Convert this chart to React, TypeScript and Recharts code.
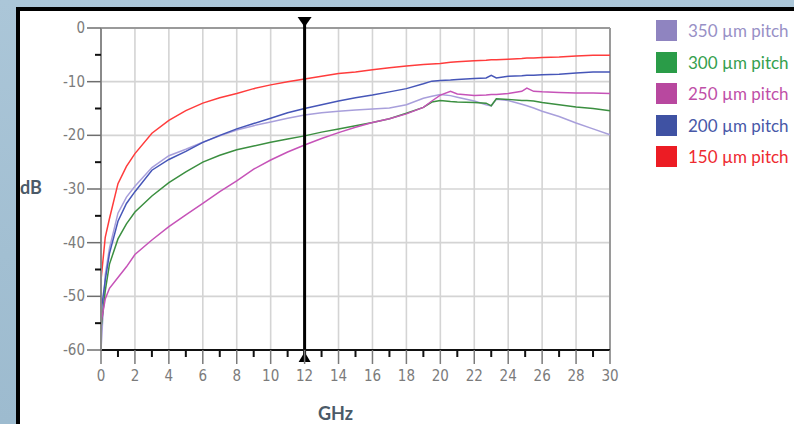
import React from 'react';
import { LineChart, Line, XAxis, YAxis, ReferenceLine } from 'recharts';

// frequency points (GHz)
const freqGHz = [0, 0.25, 0.5, 1, 1.5, 2, 3, 4, 5, 6, 7, 8, 9, 10, 11, 12, 13, 14, 15, 16, 17, 18, 19, 19.5, 20, 20.6, 21, 22, 22.7, 23, 23.3, 24, 24.8, 25.1, 25.5, 26, 27, 28, 29, 30];

// dB values per pitch
const pitch350 = [-60, -46, -41, -34.5, -31.5, -29.5, -26, -23.8, -22.6, -21.3, -20.1, -19, -18.2, -17.5, -16.8, -16.2, -15.8, -15.5, -15.3, -15.1, -14.9, -14.3, -13.1, -12.7, -12.4, -12.6, -12.9, -13.6, -14.3, -14.5, -13.3, -13.5, -14.2, -14.5, -14.9, -15.5, -16.5, -17.7, -18.8, -19.9];
const pitch300 = [-56, -49, -44, -39.3, -36.5, -34.3, -31.3, -28.8, -26.8, -25, -23.7, -22.7, -22, -21.3, -20.7, -20.1, -19.4, -18.8, -18.2, -17.6, -16.9, -15.9, -14.8, -13.8, -13.5, -13.7, -13.8, -13.9, -14, -14.5, -13.2, -13.3, -13.5, -13.5, -13.6, -13.9, -14.3, -14.7, -15, -15.4];
const pitch250 = [-55, -50.5, -48.5, -46.5, -44.5, -42.2, -39.5, -37, -34.8, -32.7, -30.5, -28.5, -26.3, -24.6, -23.1, -21.8, -20.6, -19.5, -18.5, -17.6, -16.9, -16, -14.8, -13.6, -12.5, -11.8, -12.3, -12.6, -12.5, -12.4, -12.4, -12.2, -11.8, -11.2, -11.8, -11.9, -12, -12.1, -12.1, -12.2];
const pitch200 = [-53, -47, -42, -36, -32.7, -30.5, -26.5, -24.5, -23, -21.3, -20, -18.8, -17.8, -16.8, -15.8, -15, -14.3, -13.6, -13, -12.5, -11.9, -11.3, -10.4, -9.9, -9.8, -9.7, -9.6, -9.4, -9.3, -8.8, -9.3, -9, -8.9, -8.8, -8.8, -8.7, -8.6, -8.4, -8.2, -8.2];
const pitch150 = [-47, -39, -35.5, -29, -25.8, -23.4, -19.6, -17.2, -15.4, -14, -13, -12.2, -11.3, -10.6, -10, -9.5, -9, -8.5, -8.2, -7.8, -7.4, -7.1, -6.8, -6.7, -6.6, -6.4, -6.3, -6.1, -6, -5.9, -5.9, -5.8, -5.7, -5.6, -5.6, -5.5, -5.4, -5.2, -5.1, -5.1];

const xTicks = [0, 1, 2, 3, 4, 5, 6, 7, 8, 9, 10, 11, 12, 13, 14, 15, 16, 17, 18, 19, 20, 21, 22, 23, 24, 25, 26, 27, 28, 29, 30];
const xGrid = [2, 4, 6, 8, 10, 12, 14, 16, 18, 20, 22, 24, 26, 28];
const yTicks = [0, -5, -10, -15, -20, -25, -30, -35, -40, -45, -50, -55, -60];
const yGrid = [-10, -20, -30, -40, -50];
const markerGHz = 12;

const series = [
  { key: 'p350', name: '350 µm pitch', values: pitch350, line: '#a89fdb', swatch: '#8f84c0', text: '#9890c6' },
  { key: 'p300', name: '300 µm pitch', values: pitch300, line: '#3b8f40', swatch: '#2a9c48', text: '#35a04e' },
  { key: 'p250', name: '250 µm pitch', values: pitch250, line: '#c653b8', swatch: '#b8489f', text: '#bf4fa8' },
  { key: 'p200', name: '200 µm pitch', values: pitch200, line: '#4656b8', swatch: '#3f52a3', text: '#4858a8' },
  { key: 'p150', name: '150 µm pitch', values: pitch150, line: '#ff3c3c', swatch: '#ec1c24', text: '#ee2a30' },
];

const chartData = freqGHz.map((f, i) => {
  const row: Record<string, number> = { f };
  series.forEach(s => { row[s.key] = s.values[i]; });
  return row;
});

const tickFont = "'Liberation Sans Narrow', 'DejaVu Sans Condensed', 'Liberation Sans', sans-serif";

const XTick = (props: any) => {
  const { x, y, payload } = props;
  const major = payload.value % 2 === 0;
  return (
    <g>
      <line x1={x} x2={x} y1={y} y2={y + (major ? 14 : 7)} stroke={major ? '#7a7a7a' : '#111'} strokeWidth={major ? 1.5 : 2} />
      {major && (
        <text x={x} y={y + 31} textAnchor="middle" fill="#7b7b7b" fontSize={15} fontFamily={tickFont}>
          {payload.value}
        </text>
      )}
    </g>
  );
};

const YTick = (props: any) => {
  const { x, y, payload } = props;
  const major = payload.value % 10 === 0;
  return (
    <g>
      <line x1={x - (major ? 14 : 6)} x2={x} y1={y} y2={y} stroke={major ? '#6e6e6e' : '#111'} strokeWidth={major ? 1.5 : 2} />
      {major && (
        <text x={x - 16} y={y + 5} textAnchor="end" fill="#7b7b7b" fontSize={15} fontFamily={tickFont}>
          {payload.value}
        </text>
      )}
    </g>
  );
};

// vertical marker with triangles at both ends
const Marker = (props: any) => {
  const { x1, y1, y2 } = props;
  const top = Math.min(y1, y2);
  const bottom = Math.max(y1, y2);
  return (
    <g>
      <line x1={x1} x2={x1} y1={top - 8} y2={bottom + 8} stroke="#000" strokeWidth={3} />
      <polygon points={`${x1 - 7},${top - 11} ${x1 + 7},${top - 11} ${x1},${top - 1}`} fill="#000" />
      <polygon points={`${x1 - 6},${bottom + 12} ${x1 + 6},${bottom + 12} ${x1},${bottom + 2}`} fill="#000" />
    </g>
  );
};

export default function App() {
  return (
    <div style={{ position: 'absolute', left: 0, top: 0, width: 794, height: 424, overflow: 'hidden', background: 'linear-gradient(180deg, #abc6d8 0%, #a2bfd2 60%, #9dbbcf 100%)' }}>
      <div style={{ position: 'absolute', left: 16, top: 7, right: -10, bottom: -10, background: '#fff', borderLeft: '4px solid #000', borderTop: '4px solid #000' }} />
      <div style={{ position: 'absolute', left: 0, top: 0 }}>
        <LineChart width={794} height={424} data={chartData} margin={{ top: 28, right: 184, bottom: 44, left: 0 }}>
          {xGrid.map(v => (
            <ReferenceLine key={'gx' + v} x={v} stroke="#d4d4d4" strokeWidth={1.6} />
          ))}
          {yGrid.map(v => (
            <ReferenceLine key={'gy' + v} y={v} stroke="#d4d4d4" strokeWidth={1.6} />
          ))}
          <ReferenceLine y={0} stroke="#9a9a9a" strokeWidth={2} />
          <ReferenceLine x={30} stroke="#9a9a9a" strokeWidth={2} />
          <XAxis
            dataKey="f"
            type="number"
            domain={[0, 30]}
            ticks={xTicks}
            interval={0}
            height={30}
            tickSize={0}
            tickMargin={0}
            tickLine={false}
            axisLine={{ stroke: '#111', strokeWidth: 2 }}
            tick={<XTick />}
          />
          <YAxis
            type="number"
            domain={[-60, 0]}
            ticks={yTicks}
            interval={0}
            width={101}
            tickSize={0}
            tickMargin={0}
            tickLine={false}
            axisLine={{ stroke: '#8a8a8a', strokeWidth: 2 }}
            tick={<YTick />}
          />
          {series.map(s => (
            <Line
              key={s.key}
              type="linear"
              dataKey={s.key}
              name={s.name}
              stroke={s.line}
              strokeWidth={1.5}
              dot={false}
              isAnimationActive={false}
            />
          ))}
          <ReferenceLine x={markerGHz} stroke="#000" shape={<Marker />} />
        </LineChart>
      </div>
      <div style={{ position: 'absolute', left: 20, top: 176, fontFamily: 'Lato, sans-serif', fontWeight: 700, fontSize: 18, color: '#4b5a68' }}>dB</div>
      <div style={{ position: 'absolute', left: 318, top: 402, fontFamily: 'Lato, sans-serif', fontWeight: 700, fontSize: 18, color: '#4b5a68' }}>GHz</div>
      <div style={{ position: 'absolute', left: 656, top: 20, fontFamily: 'Lato, sans-serif', fontSize: 17, whiteSpace: 'nowrap' }}>
        {series.map(s => (
          <div key={s.key} style={{ display: 'flex', alignItems: 'center', height: 21, marginBottom: 10.5 }}>
            <span style={{ display: 'inline-block', width: 21, height: 21, background: s.swatch, marginRight: 11 }} />
            <span style={{ color: s.text }}>{s.name}</span>
          </div>
        ))}
      </div>
    </div>
  );
}
